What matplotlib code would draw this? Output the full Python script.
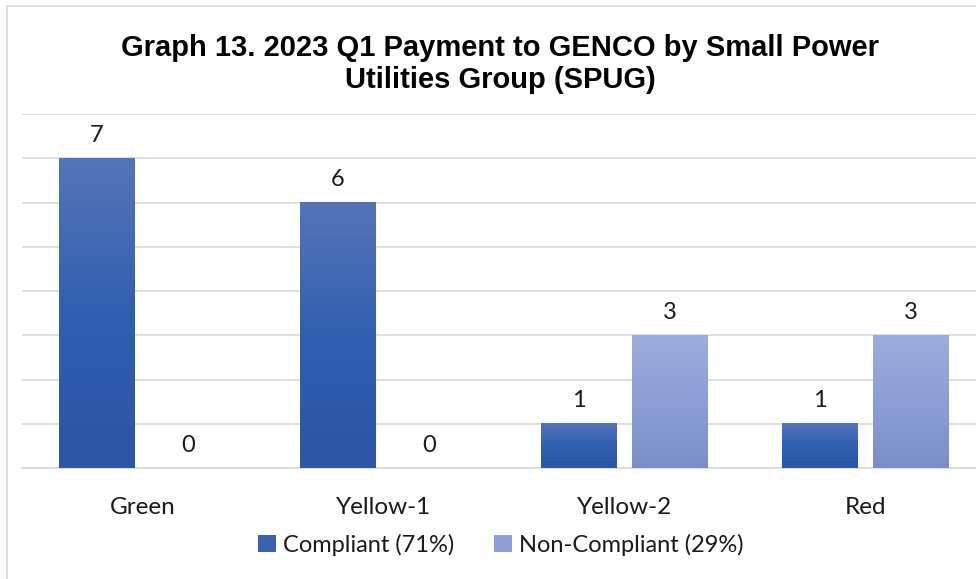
import numpy as np
import matplotlib
matplotlib.use("Agg")
import matplotlib.pyplot as plt
from matplotlib.colors import LinearSegmentedColormap
from matplotlib.patches import Rectangle

# data
categories = ["Green", "Yellow-1", "Yellow-2", "Red"]
compliant = [7, 6, 1, 1]
non_compliant = [0, 0, 3, 3]
series_names = ["Compliant (71%)", "Non-Compliant (29%)"]

title = "Graph 13. 2023 Q1 Payment to GENCO by Small Power\nUtilities Group (SPUG)"

W, H = 976, 579
fig = plt.figure(figsize=(W / 100, H / 100), dpi=100)

# light frame of the chart area (chart is cropped on the right/bottom)
fig.patches.append(Rectangle((7 / W, -0.1), 1.2, 1 - 6 / H + 0.1,
                             transform=fig.transFigure, fill=False,
                             edgecolor="#d9d9d9", linewidth=1.2))

# axes: left at 22px, 4 categories of ~241px each, runs past the right edge
ax = fig.add_axes([22 / W, (H - 468) / H, 964 / W, (468 - 114) / H])

x = np.arange(len(categories))
width = 0.315
off = 0.19

cmap_c = LinearSegmentedColormap.from_list("c", ["#5574b9", "#3060b0", "#2b55a5"])
cmap_n = LinearSegmentedColormap.from_list("n", ["#9aaddc", "#8c9fd6", "#7a8ec8"])

bars_c = ax.bar(x - off, compliant, width, color="#2f5bab", zorder=2, label=series_names[0])
bars_n = ax.bar(x + off, non_compliant, width, color="#8a9dd3", zorder=2, label=series_names[1])

# gradient fill on each bar
grad = np.linspace(0, 1, 256).reshape(-1, 1)
for bars, cmap in ((bars_c, cmap_c), (bars_n, cmap_n)):
    for b in bars:
        h = b.get_height()
        if h <= 0:
            continue
        ax.imshow(grad, cmap=cmap, aspect="auto", zorder=3,
                  extent=[b.get_x(), b.get_x() + b.get_width(), 0, h],
                  origin="upper", interpolation="bicubic")
        b.set_facecolor("none")

for bars in (bars_c, bars_n):
    ax.bar_label(bars, padding=9, fontsize=17, family="Lato", color="#1a1a1a")

ax.set_xlim(-0.5, len(categories) - 0.5)
ax.set_ylim(0, 8)
ax.set_yticks(range(0, 9))
ax.yaxis.grid(True, color="#d9d9d9", linewidth=1.2, zorder=0)
ax.set_axisbelow(True)
ax.tick_params(axis="y", length=0, labelleft=False)
ax.set_xticks(x)
ax.set_xticklabels(categories, fontsize=17.5, family="Lato", color="#1a1a1a")
ax.tick_params(axis="x", length=0, pad=21)
for s in ("top", "right", "left"):
    ax.spines[s].set_visible(False)
ax.spines["bottom"].set_color("#d9d9d9")
ax.spines["bottom"].set_linewidth(1.2)

fig.text(500 / W, 1 - 64 / H, title, ha="center", va="center",
         fontsize=21, fontweight="bold", family="Liberation Sans",
         linespacing=1.2, color="#000000")

h_c = Rectangle((0, 0), 1, 1, facecolor="#3a62ae")
h_n = Rectangle((0, 0), 1, 1, facecolor="#8c9fd6")
fig.legend([h_c, h_n], series_names, loc="center", bbox_to_anchor=(501 / W, 1 - 545 / H),
           ncol=2, frameon=False, prop={"family": "Lato", "size": 17},
           handlelength=0.75, handleheight=0.75, handletextpad=0.3, columnspacing=1.7,
           labelcolor="#1a1a1a")

fig.savefig("out.png", dpi=100)
